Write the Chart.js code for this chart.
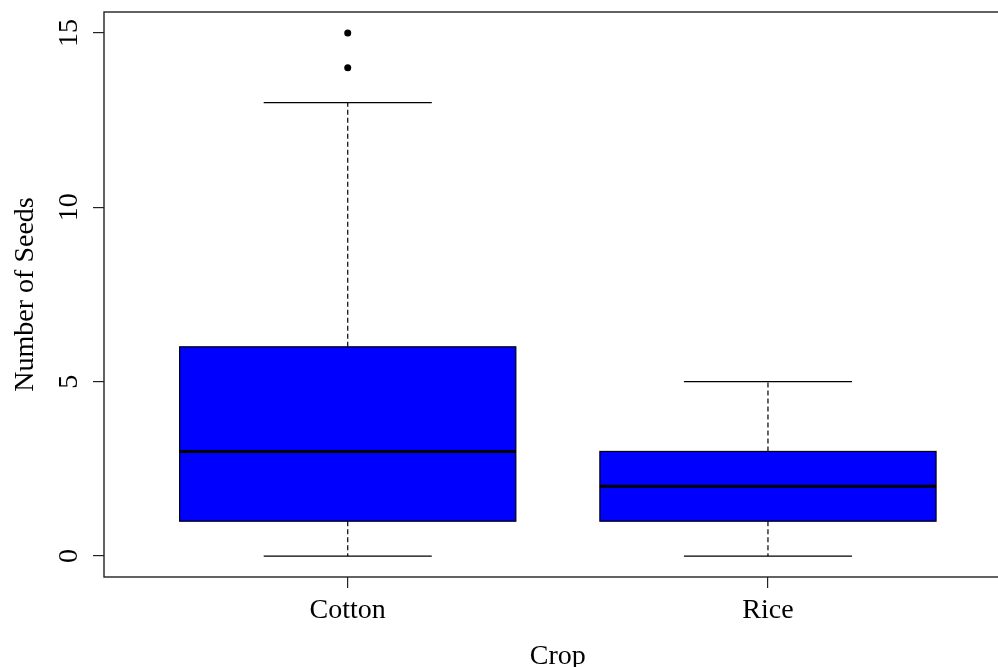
<!DOCTYPE html>
<html>
<head>
<meta charset="utf-8">
<title>Number of Seeds by Crop</title>
<script src="https://cdn.jsdelivr.net/npm/chart.js@4/dist/chart.umd.min.js"></script>
<style>
  html, body { margin: 0; padding: 0; background: #fff; overflow: hidden; }
  #wrap { width: 998px; height: 667px; overflow: hidden; }
  canvas { display: block; }
</style>
</head>
<body>
<div id="wrap"><canvas id="box" width="1020" height="667"></canvas></div>
<script>
// box plot summary
const crops = ['Cotton', 'Rice'];
const whiskerLow = [0, 0];
const q1 = [1, 1];
const medians = [3, 2];
const q3 = [6, 3];
const whiskerHigh = [13, 5];
const outliers = [[14, 15], []];
const yTicks = [0, 5, 10, 15];

const FONT = '28px "Liberation Serif", "Times New Roman", serif';

// outlier points as a scatter dataset
const outlierPoints = [];
crops.forEach((c, i) => {
  outliers[i].forEach(v => outlierPoints.push({ x: i + 1, y: v }));
});

// draws boxes, whiskers, frame and all text from the scales
const boxPlugin = {
  id: 'boxPlugin',
  beforeDatasetsDraw(chart) {
    const ctx = chart.ctx;
    const xs = chart.scales.x;
    const ys = chart.scales.y;
    ctx.save();
    crops.forEach((c, i) => {
      const pos = i + 1;
      const xc = xs.getPixelForValue(pos);
      const bl = xs.getPixelForValue(pos - 0.4);
      const br = xs.getPixelForValue(pos + 0.4);
      const sl = xs.getPixelForValue(pos - 0.2);
      const sr = xs.getPixelForValue(pos + 0.2);
      const yq1 = ys.getPixelForValue(q1[i]);
      const yq3 = ys.getPixelForValue(q3[i]);
      const ymed = ys.getPixelForValue(medians[i]);
      const ylo = ys.getPixelForValue(whiskerLow[i]);
      const yhi = ys.getPixelForValue(whiskerHigh[i]);

      // whiskers (dashed)
      ctx.strokeStyle = '#000';
      ctx.lineWidth = 1.2;
      ctx.setLineDash([5, 3]);
      ctx.beginPath();
      ctx.moveTo(xc, yq3);
      ctx.lineTo(xc, yhi);
      ctx.moveTo(xc, yq1);
      ctx.lineTo(xc, ylo);
      ctx.stroke();
      ctx.setLineDash([]);

      // staples
      ctx.lineWidth = 1.3;
      ctx.beginPath();
      ctx.moveTo(sl, yhi);
      ctx.lineTo(sr, yhi);
      ctx.moveTo(sl, ylo);
      ctx.lineTo(sr, ylo);
      ctx.stroke();

      // box
      ctx.fillStyle = '#0000ff';
      ctx.fillRect(bl, yq3, br - bl, yq1 - yq3);
      ctx.lineWidth = 1.2;
      ctx.strokeRect(bl, yq3, br - bl, yq1 - yq3);

      // median
      ctx.lineWidth = 3;
      ctx.beginPath();
      ctx.moveTo(bl, ymed);
      ctx.lineTo(br, ymed);
      ctx.stroke();
    });
    ctx.restore();
  },
  afterDraw(chart) {
    const ctx = chart.ctx;
    const a = chart.chartArea;
    const xs = chart.scales.x;
    const ys = chart.scales.y;
    ctx.save();

    // frame round the plot
    ctx.strokeStyle = '#222';
    ctx.lineWidth = 1.4;
    ctx.strokeRect(a.left, a.top, a.right - a.left, a.bottom - a.top);

    ctx.fillStyle = '#000';
    ctx.font = FONT;
    ctx.textAlign = 'center';
    ctx.textBaseline = 'alphabetic';

    // x tick labels
    crops.forEach((c, i) => {
      ctx.fillText(c, xs.getPixelForValue(i + 1), a.bottom + 41);
    });

    // x title
    ctx.fillText('Crop', (a.left + a.right) / 2, 664);

    // y tick labels, rotated like R
    yTicks.forEach(v => {
      ctx.save();
      ctx.translate(a.left - 27, ys.getPixelForValue(v));
      ctx.rotate(-Math.PI / 2);
      ctx.fillText(String(v), 0, 0);
      ctx.restore();
    });

    // y title
    ctx.save();
    ctx.translate(33, (a.top + a.bottom) / 2);
    ctx.rotate(-Math.PI / 2);
    ctx.fillText('Number of Seeds', 0, 0);
    ctx.restore();

    ctx.restore();
  }
};

new Chart(document.getElementById('box').getContext('2d'), {
  type: 'scatter',
  data: {
    datasets: [{
      label: 'outliers',
      data: outlierPoints,
      pointRadius: 3.5,
      pointBackgroundColor: '#000',
      pointBorderColor: '#000',
      pointBorderWidth: 0
    }]
  },
  options: {
    responsive: false,
    animation: false,
    devicePixelRatio: 1,
    layout: { padding: { top: 12, right: 8.3, left: 0, bottom: 0 } },
    plugins: {
      legend: { display: false },
      tooltip: { enabled: false }
    },
    scales: {
      x: {
        type: 'linear',
        min: 0.42,
        max: 2.58,
        afterBuildTicks(scale) {
          scale.ticks = crops.map((c, i) => ({ value: i + 1 }));
        },
        afterFit(scale) { scale.height = 90; },
        ticks: { display: false },
        grid: { drawOnChartArea: false, drawTicks: true, tickLength: 11, color: '#222', lineWidth: 1.2 },
        border: { display: false }
      },
      y: {
        type: 'linear',
        min: -0.6,
        max: 15.6,
        afterBuildTicks(scale) {
          scale.ticks = yTicks.map(v => ({ value: v }));
        },
        afterFit(scale) { scale.width = 104; },
        ticks: { display: false },
        grid: { drawOnChartArea: false, drawTicks: true, tickLength: 11, color: '#222', lineWidth: 1.2 },
        border: { display: false }
      }
    }
  },
  plugins: [boxPlugin]
});
</script>
</body>
</html>
